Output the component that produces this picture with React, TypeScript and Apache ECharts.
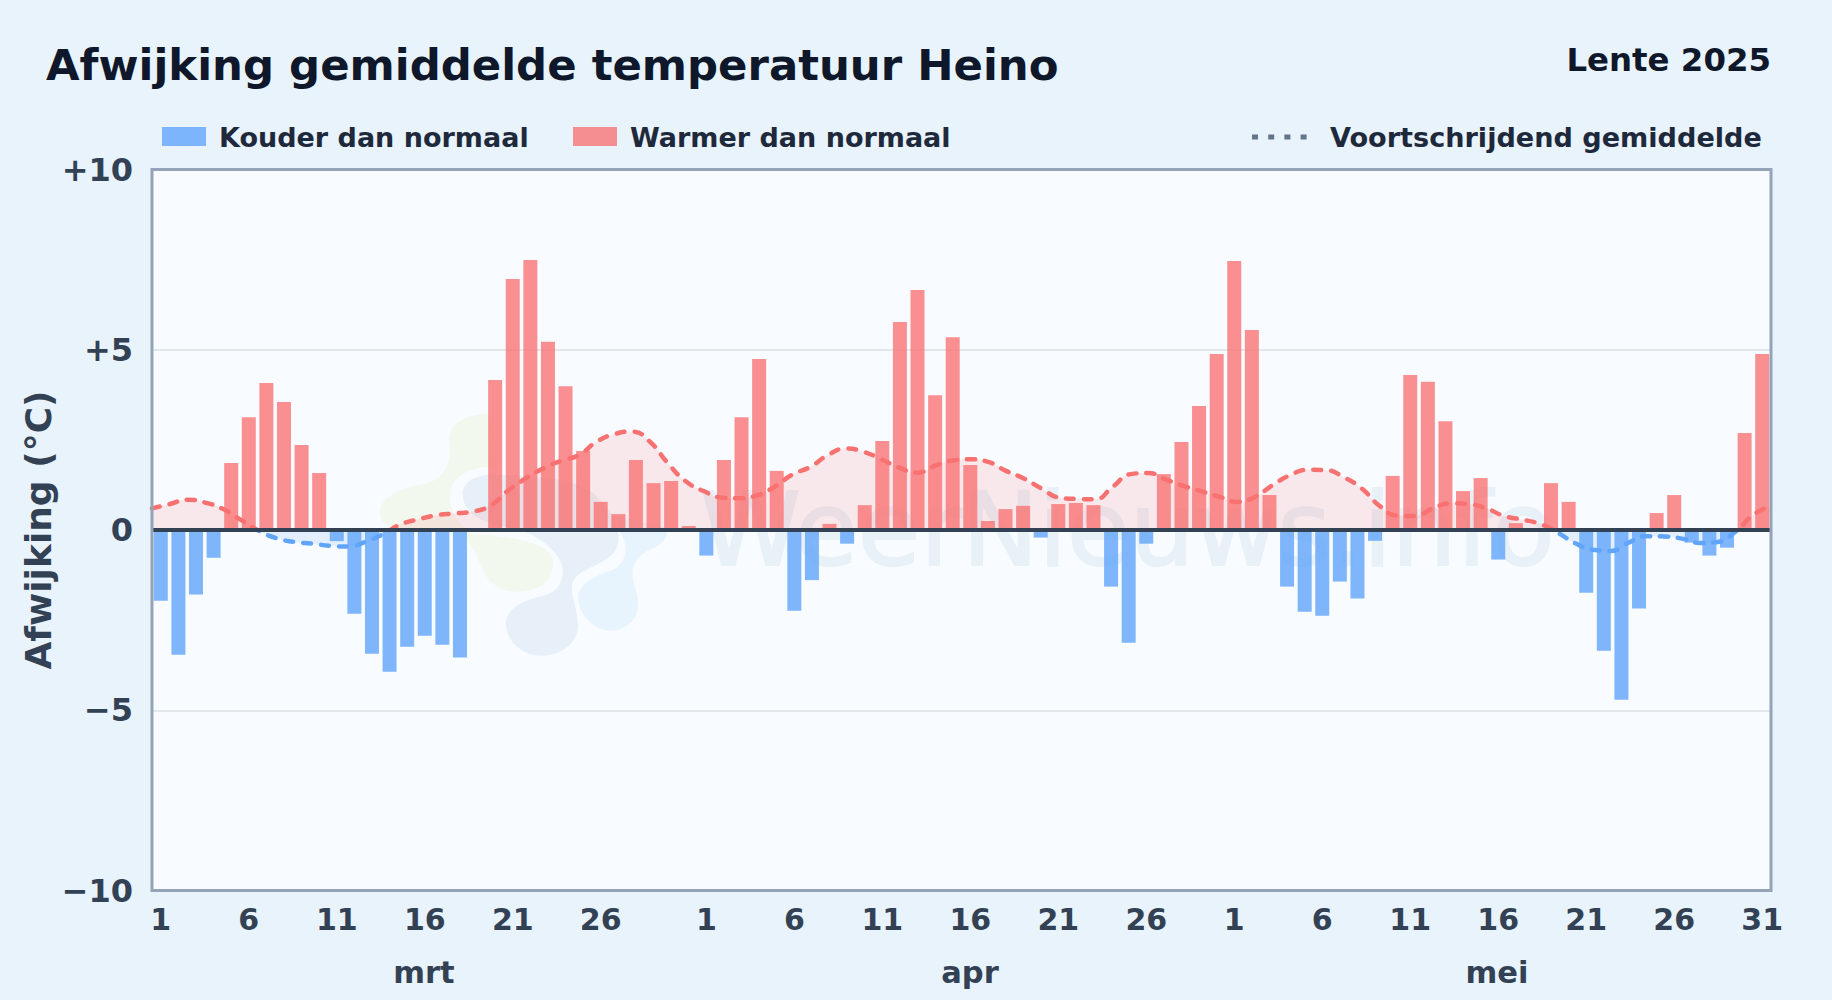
import React, { useEffect, useRef } from "react";
import * as echarts from "echarts";

const FONT = "DejaVu Sans";

const monthNames = ["mrt", "apr", "mei"];
const monthLengths = [31, 30, 31];
const yMin = -10;
const yMax = 10;
const yStep = 5;

const deviations = [
  -1.96, -3.46, -1.79, -0.77, 1.86, 3.13, 4.08, 3.55, 2.36, 1.58, -0.31, -2.32, -3.43, -3.93, -3.24, -2.93,
  -3.18, -3.54, 0, 4.16, 6.96, 7.49, 5.22, 3.99, 2.19, 0.78, 0.44, 1.94, 1.3, 1.36, 0.11,
  -0.71, 1.94, 3.13, 4.74, 1.64, -2.24, -1.39, 0.17, -0.38, 0.69, 2.47, 5.77, 6.66, 3.74, 5.35,
  1.8, 0.25, 0.58, 0.67, -0.21, 0.72, 0.75, 0.69, -1.57, -3.13, -0.38, 1.55, 2.44, 3.44, 4.88,
  7.46, 5.55, 0.97, -1.57, -2.27, -2.38, -1.43, -1.9, -0.3, 1.5, 4.3, 4.11, 3.02, 1.08, 1.44,
  -0.82, 0.19, 0, 1.3, 0.78, -1.74, -3.35, -4.71, -2.18, 0.47, 0.97, -0.35, -0.71, -0.49, 2.69, 4.88,
];

const movingAverage = [
  0.6, 0.72, 0.84, 0.76, 0.58, 0.28, -0.02, -0.23, -0.33, -0.38, -0.44, -0.46, -0.33, -0.11, 0.16, 0.3,
  0.41, 0.46, 0.51, 0.67, 1.09, 1.43, 1.71, 1.92, 2.08, 2.45, 2.66, 2.73, 2.44, 1.85, 1.35,
  1.08, 0.9, 0.88, 0.96, 1.2, 1.54, 1.75, 2.08, 2.26, 2.17, 1.96, 1.73, 1.59, 1.78, 1.93,
  1.96, 1.89, 1.64, 1.43, 1.15, 0.9, 0.86, 0.85, 1.2, 1.55, 1.58, 1.4, 1.22, 1.07, 0.92,
  0.78, 0.92, 1.25, 1.53, 1.67, 1.66, 1.46, 1.15, 0.67, 0.4, 0.39, 0.6, 0.74, 0.72, 0.6,
  0.39, 0.29, 0.17, -0.07, -0.37, -0.55, -0.58, -0.35, -0.17, -0.18, -0.24, -0.36, -0.33, -0.05, 0.42, 0.67,
];

const dayLabels: string[] = monthLengths.flatMap((n) => Array.from({ length: n }, (_, i) => String(i + 1)));
const coldValues = deviations.map((v) => (v < 0 ? v : null));
const warmValues = deviations.map((v) => (v > 0 ? v : null));

const RED = "#f87171";
const BLUE = "#60a5fa";

const GREEN_BLOB =
  "M30 340 C30 290 90 265 170 250 C225 235 245 190 238 130 C230 70 290 40 360 42 L380 200 C300 200 240 230 240 290 C240 340 270 370 300 400 C400 410 550 420 550 490 C550 560 480 580 430 575 C370 570 345 530 330 490 C310 440 280 400 240 385 C150 385 30 400 30 340 Z";
const SLATE_BLOB =
  "M278 280 C280 235 340 220 400 225 C500 230 640 230 690 300 C740 350 750 400 745 430 C735 490 640 500 615 535 C590 570 625 620 625 680 C620 740 560 770 510 768 C450 765 408 720 408 670 C410 620 470 600 530 585 C575 570 590 520 570 480 C540 430 480 390 400 380 C320 365 278 330 278 280 Z";
const SKY_BLOB =
  "M625 590 C630 545 690 525 730 510 C770 490 780 440 750 395 L740 350 L880 380 C910 400 880 435 840 450 C790 475 780 510 795 560 C815 620 810 670 740 692 C680 700 625 650 625 590 Z";

echarts.graphic.registerShape("blobGreen", echarts.graphic.extendPath(GREEN_BLOB, {}));
echarts.graphic.registerShape("blobSlate", echarts.graphic.extendPath(SLATE_BLOB, {}));
echarts.graphic.registerShape("blobSky", echarts.graphic.extendPath(SKY_BLOB, {}));

const txt = (text: string, x: number, y: number, fontSize: number, fill: string, align = "left", z = 20) => ({
  type: "text",
  x,
  y,
  z,
  silent: true,
  style: {
    text,
    fontSize,
    fontWeight: "bold",
    fontFamily: FONT,
    fill,
    textAlign: align,
    textVerticalAlign: "middle",
  },
});

const blob = (type: string, fill: string) => ({
  type,
  x: 370,
  y: 400,
  scaleX: 1 / 3,
  scaleY: 1 / 3,
  z: 1,
  silent: true,
  style: { fill },
});

export default function App() {
  const ref = useRef<HTMLDivElement>(null);

  useEffect(() => {
    const chart = echarts.init(ref.current!, null, { renderer: "svg" });
    const monthStarts = [0, 31, 61];
    const monthLastTick = [25, 25, 30];
    const shownIdx = new Set<number>();
    monthStarts.forEach((s, m) => {
      for (let d = 0; d <= monthLastTick[m]; d += 5) shownIdx.add(s + d);
    });
    chart.setOption({
      animation: false,
      backgroundColor: "#e8f3fc",
      grid: {
        left: 152,
        top: 169.5,
        width: 1619,
        height: 721,
        show: true,
        backgroundColor: "#f8fbff",
        borderWidth: 0,
        z: 0,
      },
      xAxis: [
        {
          type: "category",
          data: dayLabels,
          boundaryGap: true,
          axisLine: { show: false, onZero: false },
          axisTick: { show: false },
          splitLine: { show: false },
          axisLabel: {
            interval: (i: number) => shownIdx.has(i),
            margin: 14,
            fontSize: 30,
            fontWeight: "bold",
            fontFamily: FONT,
            color: "#334155",
            hideOverlap: false,
          },
        },
        {
          type: "category",
          data: dayLabels,
          boundaryGap: false,
          show: false,
        },
      ],
      yAxis: {
        type: "value",
        min: yMin,
        max: yMax,
        interval: yStep,
        name: "Afwijking (°C)",
        nameLocation: "middle",
        nameGap: 95.5,
        nameMoveOverlap: false,
        nameTextStyle: { fontSize: 36, fontWeight: "bold", fontFamily: FONT, color: "#334155" },
        axisLine: { show: false },
        axisTick: { show: false },
        splitLine: { show: true, showMinLine: false, showMaxLine: false, lineStyle: { color: "#e1e7ec", width: 2 } },
        axisLabel: {
          margin: 19,
          fontSize: 32,
          fontWeight: "bold",
          fontFamily: FONT,
          color: "#334155",
          formatter: (v: number) => (v > 0 ? `+${v}` : v < 0 ? `\u2212${Math.abs(v)}` : "0"),
        },
      },
      visualMap: {
        type: "piecewise",
        show: false,
        seriesIndex: 2,
        dimension: 1,
        pieces: [
          { gt: 0, lte: 100, color: RED },
          { gte: -100, lte: 0, color: BLUE },
        ],
      },
      series: [
        {
          name: "Kouder dan normaal",
          type: "bar",
          data: coldValues,
          barWidth: 14,
          barGap: "-100%",
          z: 4,
          itemStyle: { color: BLUE, opacity: 0.8 },
        },
        {
          name: "Warmer dan normaal",
          type: "bar",
          data: warmValues,
          barWidth: 14,
          barGap: "-100%",
          z: 4,
          itemStyle: { color: RED, opacity: 0.78 },
          markLine: {
            silent: true,
            symbol: "none",
            z: 8,
            label: { show: false },
            lineStyle: { color: "#334155", width: 4, type: "solid", opacity: 1 },
            data: [{ yAxis: 0 }],
          },
        },
        {
          name: "Voortschrijdend gemiddelde",
          type: "line",
          xAxisIndex: 1,
          data: movingAverage,
          smooth: 0.5,
          symbol: "none",
          z: 3,
          lineStyle: { width: 4.5, type: [8, 10], cap: "round" },
          areaStyle: { opacity: 0.14 },
        },
      ],
      graphic: [
        blob("blobGreen", "#f3f8ee"),
        blob("blobSlate", "#e7f0f8"),
        blob("blobSky", "#e8f4fd"),
        {
          type: "text",
          x: 700,
          y: 529,
          z: 1,
          silent: true,
          style: {
            text: "WeerNieuws.info",
            fontSize: 102,
            fontFamily: FONT,
            fill: "#e8f0f8",
            stroke: "#e8f0f8",
            lineWidth: 2,
            textAlign: "left",
            textVerticalAlign: "middle",
          },
        },
        {
          type: "rect",
          z: 9,
          silent: true,
          shape: { x: 152, y: 169.5, width: 1619, height: 721 },
          style: { fill: "none", stroke: "#94a3b8", lineWidth: 3 },
        },
        txt("Afwijking gemiddelde temperatuur Heino", 46, 64.5, 43.4, "#0f172a"),
        txt("Lente 2025", 1771, 60, 32.4, "#0f172a", "right"),
        { type: "rect", z: 20, silent: true, shape: { x: 162, y: 127, width: 44, height: 19 }, style: { fill: BLUE, opacity: 0.8 } },
        txt("Kouder dan normaal", 219, 137, 27, "#1e293b"),
        { type: "rect", z: 20, silent: true, shape: { x: 573, y: 127, width: 44, height: 19 }, style: { fill: RED, opacity: 0.78 } },
        txt("Warmer dan normaal", 630, 137, 27, "#1e293b"),
        {
          type: "line",
          z: 20,
          silent: true,
          shape: { x1: 1252, y1: 137, x2: 1308, y2: 137 },
          style: { stroke: "#64748b", lineWidth: 5, lineDash: [6, 10.2] },
        },
        txt("Voortschrijdend gemiddelde", 1330, 137, 27.1, "#1e293b"),
        txt(monthNames[0], 424, 972, 30.5, "#334155", "center"),
        txt(monthNames[1], 970, 972, 30.5, "#334155", "center"),
        txt(monthNames[2], 1497, 972, 30.5, "#334155", "center"),
      ],
    });
    return () => chart.dispose();
  }, []);

  return <div ref={ref} style={{ position: "fixed", left: 0, top: 0, width: 1832, height: 1000 }} />;
}
